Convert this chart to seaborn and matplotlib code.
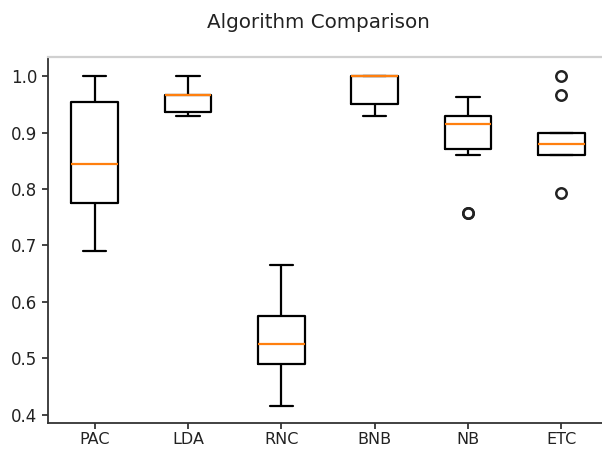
import matplotlib
matplotlib.use("Agg")
import matplotlib.pyplot as plt
import pandas as pd
import seaborn as sns

# cross-validation scores per algorithm
pac = [0.69, 0.72, 0.76, 0.82, 0.83, 0.86, 0.94, 0.96, 0.98, 1.0]
lda = [0.93, 0.93, 0.933, 0.947, 0.967, 0.967, 0.967, 0.967, 1.0, 1.0]
rnc = [0.415, 0.46, 0.48, 0.52, 0.52, 0.53, 0.56, 0.58, 0.62, 0.665]
bnb = [0.93, 0.933, 0.94, 0.98, 1.0, 1.0, 1.0, 1.0, 1.0, 1.0]
nb = [0.757, 0.757, 0.86, 0.9, 0.91, 0.92, 0.93, 0.93, 0.96, 0.963]
etc = [0.793, 0.86, 0.86, 0.86, 0.87, 0.89, 0.9, 0.9, 0.967, 1.0]
names = ["PAC", "LDA", "RNC", "BNB", "NB", "ETC"]

df = pd.DataFrame(dict(zip(names, [pac, lda, rnc, bnb, nb, etc])))

sns.set_style("ticks")
plt.rcParams["font.family"] = ["DejaVu Sans"]

W, H = 602, 450
fig = plt.figure(figsize=(W / 100, H / 100), dpi=100)
# axes runs past the right edge, like the cropped original
ax = fig.add_axes([48 / W, (H - 423) / H, 560 / W, (423 - 57) / H])

sns.boxplot(
    data=df, ax=ax, fill=False, color="black", width=0.5, linewidth=1.6,
    medianprops=dict(color="#ff7f0e", linewidth=1.6),
    flierprops=dict(marker="o", markersize=7.5, markerfacecolor="none",
                    markeredgecolor="#222222", markeredgewidth=1.8),
)

ax.set_ylim(0.385, 1.034)
ax.set_xlim(-0.5, 5.5)
ax.set_yticks([0.4, 0.5, 0.6, 0.7, 0.8, 0.9, 1.0])
ax.tick_params(labelsize=12, colors="#222222", length=4, width=1.2)
ax.tick_params(axis="x", labelsize=11.5, pad=2.5)

for side in ["left", "bottom"]:
    ax.spines[side].set_color("#333333")
    ax.spines[side].set_linewidth(1.3)
ax.spines["top"].set_color("#d0d0d0")
ax.spines["top"].set_linewidth(1.6)
ax.spines["right"].set_visible(False)

fig.text(318 / W, 1 - 22 / H, "Algorithm Comparison", ha="center", va="center",
         fontsize=14.3, color="#222222")

fig.savefig("out.png", dpi=100)
